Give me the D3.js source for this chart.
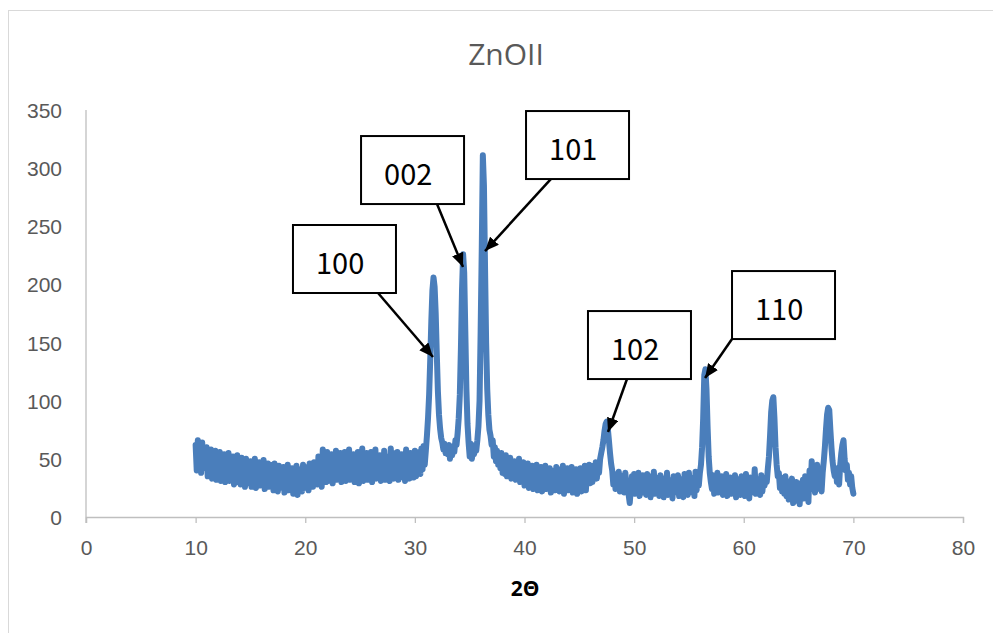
<!DOCTYPE html>
<html>
<head>
<meta charset="utf-8">
<script src="https://cdn.jsdelivr.net/npm/d3@7"></script>
<style>
  body { margin: 0; background: #fff; }
  svg { display: block; font-family: "Open Sans", "Noto Sans", sans-serif; }
</style>
</head>
<body>
<div id="chart"></div>
<script>
// XRD scan, 2θ from 10 to 70 in steps of 0.1 (one row per degree)
const angleStart = 10;
const angleStep = 0.1;
const counts = [
  62,40,66,45,58,38,64,42,56,47,
  60,35,55,38,58,33,52,40,57,32,
  53,35,56,31,50,37,54,30,49,34,
  55,31,48,36,52,28,47,33,53,30,
  49,28,51,34,46,26,50,32,44,29,
  48,26,45,33,50,25,43,31,47,27,
  44,29,49,24,42,32,46,26,45,28,
  41,23,46,30,40,22,44,27,38,25,
  43,21,39,29,45,23,38,26,42,20,
  40,24,44,19,37,28,41,22,45,25,
  38,27,43,23,46,29,40,26,47,31,
  44,28,52,32,42,26,58,34,48,30,
  56,31,47,35,54,29,49,33,57,32,
  50,34,55,30,48,36,56,31,51,33,
  58,32,49,37,54,30,50,35,56,29,
  52,34,59,31,49,38,55,32,51,36,
  56,30,50,35,58,33,48,37,53,31,
  49,34,57,32,52,36,47,31,59,35,
  55,33,50,38,56,32,49,34,54,37,
  51,31,58,36,48,33,55,38,50,34,
  57,35,52,39,56,37,59,41,61,45,
  57,70,85,105,135,168,195,206,198,175,
  140,108,88,76,68,64,58,63,55,60,
  54,62,50,58,53,61,56,66,62,72,
  85,105,145,195,226,210,160,110,80,64,
  52,63,50,58,54,62,57,66,78,100,
  160,230,311,285,215,150,110,88,75,70,
  62,66,52,60,48,57,45,54,42,55,
  38,50,37,53,35,47,39,51,33,46,
  36,48,32,44,37,50,30,43,35,47,
  27,42,29,46,25,40,31,44,24,41,
  30,45,23,39,29,43,22,40,27,44,
  24,38,26,42,21,40,28,37,23,43,
  25,41,22,38,27,44,20,39,25,42,
  23,37,26,43,21,38,28,41,20,40,
  24,42,22,39,27,44,23,40,29,45,
  29,40,30,44,35,47,33,45,38,50,
  55,60,66,74,80,82,76,66,55,46,
  40,28,37,24,35,30,39,22,36,27,
  34,21,38,25,31,19,12,24,35,22,
  37,20,33,26,38,18,30,24,36,21,
  32,19,37,25,30,17,35,23,39,20,
  34,22,31,18,36,24,30,17,33,25,
  38,19,32,23,29,16,35,21,31,24,
  36,18,33,25,30,17,37,22,32,19,
  38,21,34,26,31,18,39,23,35,27,
  38,45,60,85,122,127,110,78,52,38,
  30,24,36,20,33,27,38,21,31,25,
  35,19,32,26,37,18,30,23,34,20,
  31,22,36,17,33,25,29,19,35,24,
  32,18,37,23,30,16,34,26,29,21,
  41,20,33,25,31,19,36,22,32,27,
  34,30,42,52,70,90,100,103,85,60,
  45,35,38,25,34,22,30,20,35,18,
  31,15,28,22,33,12,27,19,30,14,
  29,11,26,20,32,16,35,22,28,13,
  40,24,48,28,36,21,33,45,30,24,
  30,22,38,48,60,75,88,94,92,75,
  60,48,40,35,42,30,38,28,45,55,
  62,66,50,40,45,32,38,28,35,25,
  20
];

const xTicks = [0, 10, 20, 30, 40, 50, 60, 70, 80];
const yTicks = [0, 50, 100, 150, 200, 250, 300, 350];

// peak labels (Miller indices)
const peakLabels = ["100", "002", "101", "102", "110"];
// callout placement, in chart units (2θ, counts)
const boxLeft = [18.88, 25.09, 40.14, 45.79, 58.93];
const boxTop = [251.1, 327.6, 349.1, 177.1, 211.5];
const arrowFrom = [[26.64, 192.6], [32.02, 269.2], [42.42, 290.7], [49.35, 118.7], [58.93, 153.1]];
const arrowTo = [[31.65, 137.6], [34.39, 215.0], [36.40, 228.7], [47.62, 73.1], [56.47, 119.5]];

const W = 993, H = 633;
const x = d3.scaleLinear().domain([0, 80]).range([86, 963]);
const y = d3.scaleLinear().domain([0, 350]).range([517, 110]);

const svg = d3.select("#chart").append("svg")
    .attr("width", W)
    .attr("height", H);

// chart frame
svg.append("rect")
    .attr("x", 8.5).attr("y", 10.5)
    .attr("width", 990).attr("height", 630)
    .attr("fill", "#fff")
    .attr("stroke", "#d9d9d9");

svg.append("text")
    .attr("x", 506).attr("y", 65)
    .attr("text-anchor", "middle")
    .style("font-size", "30px")
    .attr("fill", "#595959")
    .text("ZnOII");

// axes
const xAxis = d3.axisBottom(x).tickValues(xTicks).tickSize(6).tickSizeOuter(6);
const gx = svg.append("g")
    .attr("transform", `translate(0,${y(0)})`)
    .call(xAxis);
gx.select(".domain").attr("stroke", "#bfbfbf").attr("stroke-width", 1.3);
gx.selectAll(".tick line").attr("stroke", "#bfbfbf").attr("stroke-width", 1.3);
gx.selectAll(".tick text")
    .attr("y", 38).attr("dy", null)
    .style("font-size", "21px")
    .attr("fill", "#595959")
    .attr("font-family", null);

const yAxis = d3.axisLeft(y).tickValues(yTicks).tickSize(0).tickPadding(24);
const gy = svg.append("g")
    .attr("transform", `translate(${x(0)},0)`)
    .call(yAxis);
gy.select(".domain").remove();
gy.selectAll(".tick text")
    .attr("dy", "0.36em")
    .style("font-size", "21px")
    .attr("fill", "#595959")
    .attr("font-family", null);
svg.append("line")
    .attr("x1", x(0)).attr("x2", x(0))
    .attr("y1", y(350)).attr("y2", y(0) + 6)
    .attr("stroke", "#bfbfbf").attr("stroke-width", 1.3);

svg.append("text")
    .attr("x", 525).attr("y", 596)
    .attr("text-anchor", "middle")
    .style("font-size", "21px")
    .style("font-weight", "bold")
    .attr("fill", "#000")
    .text("2Θ");

// the scan
const pts = counts.map((c, i) => [angleStart + i * angleStep, c]);
const line = d3.line().x(d => x(d[0])).y(d => y(d[1]));
svg.append("path")
    .datum(pts)
    .attr("d", line)
    .attr("fill", "none")
    .attr("stroke", "#4a7ebb")
    .attr("stroke-width", 6)
    .attr("stroke-linejoin", "round")
    .attr("stroke-linecap", "round");

// callouts
svg.append("defs").append("marker")
    .attr("id", "head")
    .attr("markerUnits", "userSpaceOnUse")
    .attr("viewBox", "0 0 14 12")
    .attr("refX", 14).attr("refY", 6)
    .attr("markerWidth", 14).attr("markerHeight", 12)
    .attr("orient", "auto")
  .append("path")
    .attr("d", "M0,0L14,6L0,12Z")
    .attr("fill", "#000");

const callouts = svg.append("g").selectAll("g")
    .data(peakLabels)
    .enter().append("g");

callouts.append("line")
    .attr("x1", (d, i) => x(arrowFrom[i][0]))
    .attr("y1", (d, i) => y(arrowFrom[i][1]))
    .attr("x2", (d, i) => x(arrowTo[i][0]))
    .attr("y2", (d, i) => y(arrowTo[i][1]))
    .attr("stroke", "#000")
    .attr("stroke-width", 2.5)
    .attr("marker-end", "url(#head)");

callouts.append("rect")
    .attr("x", (d, i) => x(boxLeft[i]))
    .attr("y", (d, i) => y(boxTop[i]))
    .attr("width", 103).attr("height", 68)
    .attr("fill", "#fff")
    .attr("stroke", "#000")
    .attr("stroke-width", 2);

callouts.append("text")
    .attr("x", (d, i) => x(boxLeft[i]) + 23)
    .attr("y", (d, i) => y(boxTop[i]) + 49)
    .style("font-family", "'Liberation Sans Narrow', 'Noto Sans CJK SC', sans-serif")
    .style("font-size", "29px")
    .attr("fill", "#000")
    .text(d => d);
</script>
</body>
</html>
